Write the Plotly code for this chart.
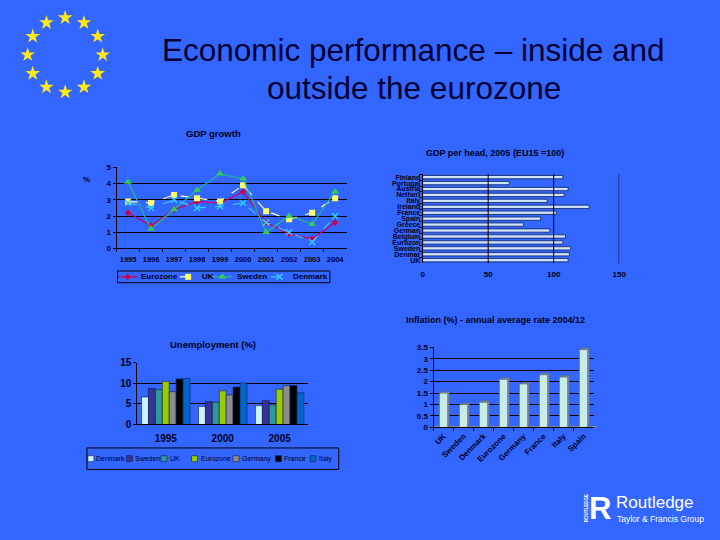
import math
import plotly.graph_objects as go

# ---------------- data ----------------
years = ["1995", "1996", "1997", "1998", "1999", "2000", "2001", "2002", "2003", "2004"]
gdp_eurozone = [2.2, 1.4, 2.4, 2.9, 2.8, 3.5, 1.6, 0.9, 0.6, 1.6]
gdp_uk = [2.9, 2.8, 3.3, 3.1, 2.9, 3.9, 2.3, 1.8, 2.2, 3.1]
gdp_sweden = [4.1, 1.2, 2.4, 3.6, 4.6, 4.3, 1.0, 2.0, 1.5, 3.5]
gdp_denmark = [2.8, 2.5, 3.0, 2.5, 2.6, 2.8, 1.6, 1.0, 0.4, 2.0]

head_countries = ["Finland", "Portugal", "Austria", "Netherl", "Italy", "Ireland", "France",
                  "Spain", "Greece", "German", "Belgium", "Eurozon", "Sweden", "Denmar", "UK"]
gdp_per_head = [107, 66, 111, 108, 95, 127, 102, 90, 77, 97, 109, 107, 113, 112, 111]
head_ticks = [0, 50, 100, 150]

unemp_years = ["1995", "2000", "2005"]
unemp_series = ["Denmark", "Sweden", "UK", "Eurozone", "Germany", "France", "Italy"]
unemp_denmark = [6.7, 4.4, 4.6]
unemp_sweden = [8.8, 5.6, 5.8]
unemp_uk = [8.5, 5.4, 4.8]
unemp_eurozone = [10.5, 8.2, 8.6]
unemp_germany = [8.0, 7.2, 9.5]
unemp_france = [11.1, 9.1, 9.5]
unemp_italy = [11.2, 10.1, 7.7]

infl_countries = ["UK", "Sweden", "Denmark", "Eurozone", "Germany", "France", "Italy", "Spain"]
inflation = [1.5, 1.0, 1.1, 2.1, 1.9, 2.3, 2.2, 3.4]

# ---------------- styling ----------------
BG = "#3366FF"
FONT = "Arial, 'Liberation Sans', sans-serif"
NARROW = "'Liberation Sans Narrow', 'Arial Narrow', Arial, 'Liberation Sans', sans-serif"
INK = "#000022"


def X(p):
    return p / 720.0


def Y(p):
    return 1 - p / 540.0


fig = go.Figure()

# ---------- GDP growth (xaxis / yaxis) ----------
gdp_styles = [
    ("Eurozone", gdp_eurozone, dict(color="#CC0055", width=1.2), dict(symbol="diamond", size=5, color="#CC0044")),
    ("UK", gdp_uk, dict(color="#FFFFCC", width=1.2, dash="dash"), dict(symbol="square", size=6, color="#FFFF66")),
    ("Sweden", gdp_sweden, dict(color="#22BB88", width=1.2), dict(symbol="triangle-up", size=7, color="#33CC55")),
    ("Denmark", gdp_denmark, dict(color="#33CCFF", width=1.2, dash="dash"), dict(symbol="x-thin", size=6, color="#33CCFF", line=dict(color="#33CCFF", width=1.5))),
]
for name, vals, ln, mk in gdp_styles:
    fig.add_trace(go.Scatter(x=years, y=vals, name=name, mode="lines+markers", line=ln, marker=mk,
                             xaxis="x", yaxis="y", showlegend=False))

# ---------- GDP per head (xaxis2 / yaxis2) ----------
fig.add_trace(go.Bar(x=gdp_per_head, y=head_countries, orientation="h", width=0.55,
                     marker=dict(color="#CFE4FF", line=dict(color="#10205A", width=0.8)),
                     xaxis="x2", yaxis="y2", showlegend=False))

# ---------- Unemployment (xaxis3 / yaxis3) ----------
unemp_colors = ["#CCF2FF", "#333399", "#2E9999", "#99CC00", "#8C8C8C", "#000000", "#0066CC"]
unemp_values = [unemp_denmark, unemp_sweden, unemp_uk, unemp_eurozone, unemp_germany, unemp_france, unemp_italy]
for name, vals, col in zip(unemp_series, unemp_values, unemp_colors):
    fig.add_trace(go.Bar(x=unemp_years, y=vals, name=name,
                         marker=dict(color=col, line=dict(color="#1A1A4A", width=0.6)),
                         xaxis="x3", yaxis="y3", showlegend=False))

# ---------- Inflation (xaxis4 / yaxis4) ----------
# darker side face of the pseudo-3D bars (same values, lifted a little)
fig.add_trace(go.Bar(x=infl_countries, y=inflation, base=0.07, width=0.42, offset=-0.13,
                     marker=dict(color="#7D8C9C", line=dict(color="#5A6A7A", width=0.6)),
                     xaxis="x4", yaxis="y4", showlegend=False, hoverinfo="skip"))
fig.add_trace(go.Bar(x=infl_countries, y=inflation, width=0.42, offset=-0.21,
                     marker=dict(color="#C8ECEC", line=dict(color="#5A6A7A", width=0.8)),
                     xaxis="x4", yaxis="y4", showlegend=False))

# ---------- decorations on a full-page pixel overlay (xaxis5 / yaxis5) ----------
n_stars = 12
star_x = [64 + 38 * math.sin(2 * math.pi * k / n_stars) for k in range(n_stars)]
star_y = [50 - 38 * math.cos(2 * math.pi * k / n_stars) for k in range(n_stars)]
fig.add_trace(go.Scatter(x=star_x, y=star_y, mode="markers",
                         marker=dict(symbol="star", size=11, color="#FFE81A", line=dict(width=0)),
                         xaxis="x5", yaxis="y5", showlegend=False, hoverinfo="skip"))

# GDP growth legend keys
gdp_leg = [(118, 137, 139), (180, 197, 200), (213, 233, 236), (272, 290, 293)]
for (x0, x1, tx), (name, vals, ln, mk) in zip(gdp_leg, gdp_styles):
    fig.add_trace(go.Scatter(x=[x0, x1], y=[277, 277], mode="lines", line=ln,
                             xaxis="x5", yaxis="y5", showlegend=False, hoverinfo="skip"))
    fig.add_trace(go.Scatter(x=[(x0 + x1) / 2], y=[277], mode="markers", marker=mk,
                             xaxis="x5", yaxis="y5", showlegend=False, hoverinfo="skip"))

# Unemployment legend keys
unemp_leg_x = [90, 129, 164, 195, 237, 280, 315]
unemp_leg_tx = [93, 133, 168, 199, 241, 284, 319]
fig.add_trace(go.Scatter(x=unemp_leg_x, y=[463] * 7, mode="markers",
                         marker=dict(symbol="square", size=6, color=unemp_colors,
                                     line=dict(color="#1A1A4A", width=0.6)),
                         xaxis="x5", yaxis="y5", showlegend=False, hoverinfo="skip"))

annotations = []


def text(x, y, s, size, color=INK, bold=False, xanchor="center", family=FONT, angle=0):
    annotations.append(dict(x=X(x), y=Y(y), xref="paper", yref="paper", text=s, showarrow=False,
                            xanchor=xanchor, yanchor="middle", textangle=angle,
                            font=dict(family=family, size=size, color=color,
                                      weight="bold" if bold else "normal")))


# main title
text(417, 45, "Economic performance \u2013 inside and", 31.5, color="#000033")
text(417, 84, "outside the eurozone", 31.5, color="#000033")

# chart titles
text(214, 130, "GDP growth", 9.5, bold=True)
text(86, 177, "%", 8, bold=True)
text(499, 150, "GDP per head, 2005 (EU15 =100)", 9, bold=True)
text(214, 346, "Unemployment (%)", 9.5, bold=True)
text(500, 321, "Inflation (%) - annual average rate 2004/12", 9, bold=True)

for (x0, x1, tx), (name, *_rest) in zip(gdp_leg, gdp_styles):
    text(tx, 277, name, 8, bold=True, xanchor="left")
for tx, name in zip(unemp_leg_tx, unemp_series):
    text(tx, 463, name, 7, xanchor="left")

# Routledge logo
text(606, 514, "R", 31, color="white", bold=True)
text(592, 514, "ROUTLEDGE", 4.5, color="white", bold=True, angle=-90)
text(620, 508, "Routledge", 17, color="white", xanchor="left")
text(621, 525, "Taylor &amp; Francis Group", 8.5, color="white", xanchor="left")

shapes = [
    dict(type="rect", xref="paper", yref="paper", x0=X(117), x1=X(332), y0=Y(283), y1=Y(271),
         line=dict(color="black", width=1)),
    dict(type="rect", xref="paper", yref="paper", x0=X(86), x1=X(341), y0=Y(474), y1=Y(452),
         line=dict(color="black", width=1)),
    # grey floor of the inflation chart
    dict(type="rect", xref="x4 domain", yref="y4", x0=0, x1=1.02, y0=0, y1=0.06,
         fillcolor="#7D8C9C", line=dict(width=0), layer="below"),
]
# vertical grid lines of the GDP-per-head chart drawn above the bars
for v in head_ticks[1:]:
    shapes.append(dict(type="line", xref="x2", yref="y2 domain", x0=v, x1=v, y0=0, y1=1,
                       line=dict(color="black", width=1), layer="above"))

axis_common = dict(showline=True, linecolor="black", linewidth=1, zeroline=False,
                   tickfont=dict(family=FONT, size=8, color=INK, weight="bold"))

fig.update_layout(
    width=720, height=540,
    margin=dict(l=0, r=0, t=0, b=0),
    paper_bgcolor=BG, plot_bgcolor="rgba(0,0,0,0)",
    barmode="group", bargap=0.15, bargroupgap=0.0,
    annotations=annotations, shapes=shapes,
    # GDP growth
    xaxis=dict(domain=[X(116), X(349)], anchor="y", type="category", range=[-0.5, 9.5],
               showgrid=False, ticks="outside", ticklen=3, tickcolor="black", tickson="boundaries",
               tickangle=0, ticklabelstandoff=4,
               **{**axis_common, "tickfont": dict(family=FONT, size=7.5, color=INK, weight="bold")}),
    yaxis=dict(domain=[Y(248), Y(165)], anchor="x", range=[0, 5], dtick=1,
               showgrid=True, gridcolor="black", gridwidth=1, ticks="outside", ticklen=3,
               tickcolor="black", **axis_common),
    # GDP per head
    xaxis2=dict(domain=[X(426), X(625)], anchor="y2", range=[0, 150], tickmode="array",
                tickvals=head_ticks, showgrid=False, showline=False, zeroline=False,
                ticks="", ticklabelstandoff=5,
                tickfont=dict(family=FONT, size=8, color=INK, weight="bold")),
    yaxis2=dict(domain=[Y(263), Y(172)], anchor="x2", type="category", range=[14.5, -0.5],
                tickmode="array", tickvals=head_countries, ticktext=head_countries,
                showline=True, linecolor="black", linewidth=1, ticks="outside", ticklen=3,
                tickcolor="black", tickson="boundaries",
                tickfont=dict(family=NARROW, size=7, color=INK, weight="bold")),
    # Unemployment
    xaxis3=dict(domain=[X(137), X(310)], anchor="y3", type="category", tickangle=0,
                showgrid=False, ticks="", ticklabelstandoff=5,
                **{**axis_common, "tickfont": dict(family=FONT, size=10, color=INK, weight="bold")}),
    yaxis3=dict(domain=[Y(428), Y(365)], anchor="x3", range=[0, 15], dtick=5,
                showgrid=True, gridcolor="black", gridwidth=1, ticks="outside", ticklen=3,
                tickcolor="black",
                **{**axis_common, "tickfont": dict(family=FONT, size=10, color=INK, weight="bold")}),
    # Inflation
    xaxis4=dict(domain=[X(437), X(599)], anchor="y4", type="category", tickangle=-45,
                range=[-0.5, 7.5],
                showgrid=False, ticks="outside", ticklen=3, tickcolor="black", tickson="boundaries",
                **{**axis_common, "tickfont": dict(family=FONT, size=8, color=INK, weight="bold")}),
    yaxis4=dict(domain=[Y(431), Y(349)], anchor="x4", range=[0, 3.5], dtick=0.5,
                showgrid=True, gridcolor="black", gridwidth=1, ticks="outside", ticklen=3,
                tickcolor="black", **axis_common),
    # pixel overlay
    xaxis5=dict(domain=[0, 1], anchor="y5", range=[0, 720], visible=False, fixedrange=True),
    yaxis5=dict(domain=[0, 1], anchor="x5", range=[540, 0], visible=False, fixedrange=True),
)

fig.write_html(
    "out.html",
    config={"displayModeBar": False},
    post_script="document.body.style.margin='0';document.body.style.padding='0';"
                "document.body.style.background='" + BG + "';"
                "document.documentElement.style.overflow='hidden';",
)
